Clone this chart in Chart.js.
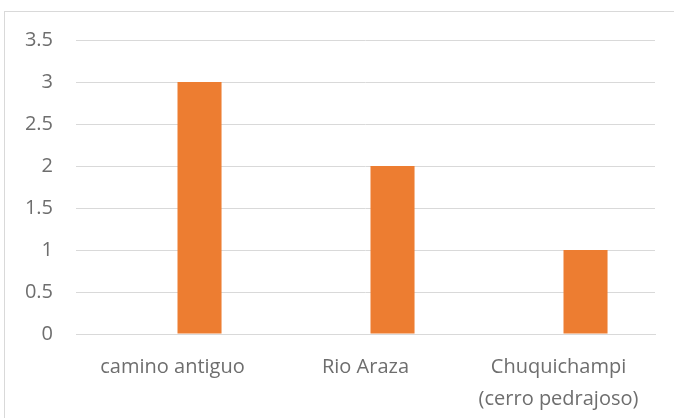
<!DOCTYPE html>
<html>
<head>
<meta charset="utf-8">
<script src="https://cdn.jsdelivr.net/npm/chart.js"></script>
<style>
  html, body { margin: 0; padding: 0; background: #fff; }
  #frame {
    position: absolute; left: 4px; top: 11px; width: 700px; height: 420px;
    border: 1px solid #d9d9d9;
  }
  #wrap { position: absolute; left: 0; top: 0; width: 674px; height: 418px; }
</style>
</head>
<body>
<div id="frame"></div>
<div id="wrap"><canvas id="barChart" width="674" height="418"></canvas></div>
<script>
const categories = ["camino antiguo", "Rio Araza", ["Chuquichampi", "(cerro pedrajoso)"]];
const emptySeries = [null, null, null];
const counts = [3, 2, 1];

const textColor = "#6e6e6e";
const gridColor = "#d9d9d9";

new Chart(document.getElementById("barChart"), {
  type: "bar",
  data: {
    labels: categories,
    datasets: [
      {
        label: "Serie 1",
        data: emptySeries,
        backgroundColor: "#4472c4",
        categoryPercentage: 0.56,
        barPercentage: 0.815
      },
      {
        label: "Serie 2",
        data: counts,
        backgroundColor: "#ed7d31",
        categoryPercentage: 0.56,
        barPercentage: 0.815
      }
    ]
  },
  options: {
    responsive: false,
    animation: false,
    layout: { padding: { top: 40, right: 19, left: 0, bottom: 0 } },
    plugins: {
      legend: { display: false },
      tooltip: { enabled: false }
    },
    scales: {
      x: {
        grid: { display: false, drawTicks: false },
        border: { color: gridColor, width: 1 },
        ticks: {
          color: textColor,
          font: { family: "'Open Sans', sans-serif", size: 20, lineHeight: 1.6 },
          padding: 17,
          maxRotation: 0
        },
        afterFit: (scale) => { scale.height = 84; }
      },
      y: {
        min: 0,
        max: 3.5,
        ticks: {
          stepSize: 0.5,
          color: textColor,
          font: { family: "'Open Sans', sans-serif", size: 20 },
          padding: 23,
          callback: (v) => String(v)
        },
        grid: { color: gridColor, drawTicks: false },
        border: { display: false },
        afterFit: (scale) => { scale.width = 76; }
      }
    }
  }
});
</script>
</body>
</html>
